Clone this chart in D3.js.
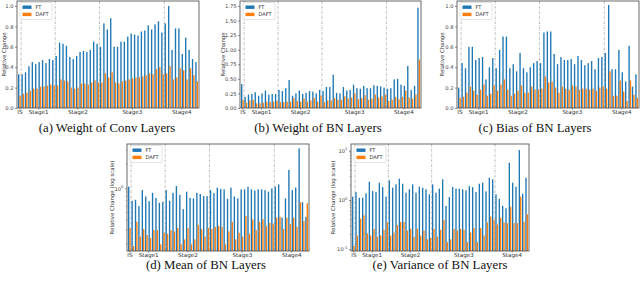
<!DOCTYPE html>
<html lang="en">
<head>
<meta charset="UTF-8">
<title>Relative change per layer: FT vs DAFT</title>
<script src="https://cdn.jsdelivr.net/npm/d3@7"></script>
<style>
    body { margin: 0; background: #fff; }
    svg text { font-family: "DejaVu Sans", sans-serif; }
    svg text.caption { font-family: "Liberation Serif", "Times New Roman", serif; }
</style>
</head>
<body>
<svg id="main" width="640" height="282"></svg>
<script>
// layers: IS (1), Stage1 (10), Stage2 (13), Stage3 (19), Stage4 (10)
let stageNames = ["IS", "Stage1", "Stage2", "Stage3", "Stage4"];
let stageSizes = [1, 10, 13, 19, 10];
let seriesNames = ["FT", "DAFT"];

// (a) weight of conv layers
let convFT = [0.33,
    0.33, 0.35, 0.41, 0.45, 0.43, 0.45, 0.47, 0.44, 0.48, 0.47,
    0.51, 0.64, 0.63, 0.61, 0.50, 0.48, 0.51, 0.55, 0.56, 0.55, 0.57, 0.65, 0.63,
    0.60, 0.83, 0.77, 0.88, 0.60, 0.60, 0.65, 0.65, 0.70, 0.73, 0.72, 0.71, 0.75, 0.76, 0.81, 0.77, 0.82, 0.85, 0.74,
    0.83, 1.00, 0.57, 0.78, 0.78, 0.53, 0.69, 0.57, 0.48, 0.45];
let convDAFT = [0.12,
    0.14, 0.15, 0.17, 0.19, 0.19, 0.21, 0.21, 0.22, 0.23, 0.22,
    0.22, 0.28, 0.27, 0.26, 0.20, 0.19, 0.20, 0.24, 0.24, 0.23, 0.25, 0.27, 0.25,
    0.25, 0.34, 0.30, 0.35, 0.25, 0.24, 0.26, 0.27, 0.28, 0.29, 0.30, 0.30, 0.31, 0.32, 0.34, 0.33, 0.38, 0.40, 0.33,
    0.34, 0.41, 0.28, 0.30, 0.39, 0.37, 0.28, 0.39, 0.32, 0.26];

// (b) weight of BN layers
let bnwFT = [0.41,
    0.19, 0.23, 0.24, 0.27, 0.21, 0.25, 0.30, 0.23, 0.24, 0.24,
    0.31, 0.29, 0.34, 0.48, 0.21, 0.25, 0.30, 0.24, 0.26, 0.29, 0.28, 0.25, 0.31,
    0.29, 0.36, 0.36, 0.57, 0.26, 0.25, 0.36, 0.30, 0.31, 0.40, 0.34, 0.33, 0.38, 0.34, 0.34, 0.39, 0.38, 0.37, 0.35,
    0.33, 0.34, 0.49, 0.50, 0.40, 0.38, 0.72, 0.31, 0.38, 1.72];
let bnwDAFT = [0.14,
    0.09, 0.13, 0.14, 0.08, 0.08, 0.09, 0.11, 0.10, 0.11, 0.12,
    0.10, 0.10, 0.11, 0.11, 0.17, 0.12, 0.11, 0.16, 0.11, 0.13, 0.17, 0.11, 0.21,
    0.10, 0.13, 0.13, 0.17, 0.14, 0.14, 0.20, 0.16, 0.18, 0.25, 0.15, 0.17, 0.22, 0.14, 0.16, 0.23, 0.18, 0.20, 0.23,
    0.12, 0.14, 0.19, 0.15, 0.19, 0.30, 0.18, 0.16, 0.23, 0.83];

// (c) bias of BN layers
let biasFT = [0.20,
    0.44, 0.39, 0.60, 0.60, 0.47, 0.49, 0.50, 0.28, 0.40, 0.49,
    0.39, 0.57, 0.70, 0.70, 0.39, 0.43, 0.36, 0.54, 0.39, 0.35, 0.40, 0.44, 0.46,
    0.44, 0.74, 0.75, 0.75, 0.53, 0.43, 0.50, 0.47, 0.47, 0.48, 0.43, 0.51, 0.47, 0.42, 0.44, 0.46, 0.38, 0.49, 0.50,
    0.54, 1.01, 0.38, 0.38, 0.57, 0.35, 0.26, 0.61, 0.21, 0.33];
let biasDAFT = [0.10,
    0.11, 0.15, 0.21, 0.17, 0.13, 0.18, 0.23, 0.12, 0.14, 0.22,
    0.17, 0.23, 0.28, 0.18, 0.12, 0.14, 0.17, 0.22, 0.15, 0.15, 0.21, 0.18, 0.18,
    0.19, 0.31, 0.25, 0.26, 0.20, 0.15, 0.21, 0.19, 0.18, 0.22, 0.21, 0.18, 0.19, 0.19, 0.18, 0.19, 0.17, 0.20, 0.21,
    0.19, 0.36, 0.12, 0.12, 0.27, 0.16, 0.07, 0.27, 0.13, 0.10];

// (d) mean of BN layers (log scale)
let meanFT = [1.05,
    0.70, 0.72, 0.60, 0.95, 0.79, 0.69, 0.88, 0.76, 0.66, 0.68,
    0.95, 0.70, 0.88, 1.07, 0.83, 0.55, 0.91, 0.76, 0.75, 0.88, 0.85, 0.80, 0.80,
    0.95, 0.87, 1.02, 0.98, 0.97, 0.74, 1.02, 0.79, 0.75, 0.97, 0.97, 1.05, 0.97, 0.94, 0.97, 0.97, 0.95, 0.91, 1.00,
    1.05, 1.12, 0.43, 0.75, 1.70, 0.95, 1.02, 3.16, 0.67, 0.44];
let meanDAFT = [0.32,
    0.19, 0.38, 0.25, 0.31, 0.26, 0.24, 0.30, 0.30, 0.20, 0.28,
    0.27, 0.30, 0.29, 0.32, 0.20, 0.23, 0.32, 0.20, 0.23, 0.35, 0.31, 0.25, 0.32,
    0.31, 0.33, 0.34, 0.33, 0.20, 0.29, 0.38, 0.23, 0.28, 0.25, 0.45, 0.27, 0.41, 0.30, 0.38, 0.41, 0.34, 0.37, 0.36,
    0.43, 0.44, 0.31, 0.43, 0.36, 0.43, 0.33, 0.67, 0.39, 0.65];

// (e) variance of BN layers (log scale)
let varFT = [1.17,
    1.45, 1.11, 1.11, 1.36, 2.35, 1.52, 1.45, 2.25, 1.83, 1.17,
    2.50, 1.78, 2.08, 2.70, 2.14, 1.41, 1.65, 2.08, 1.41, 1.86, 1.78, 1.65, 1.30,
    2.08, 1.41, 1.70, 2.63, 0.76, 1.15, 1.83, 1.70, 1.70, 1.65, 1.57, 1.92, 1.83, 1.45, 2.14, 2.25, 1.50, 2.83, 2.63,
    1.30, 1.06, 0.76, 0.68, 5.70, 2.25, 1.86, 10.3, 1.34, 2.83];
let varDAFT = [0.117,
    0.19, 0.42, 0.49, 0.21, 0.19, 0.26, 0.18, 0.19, 0.25, 0.35,
    0.19, 0.22, 0.31, 0.36, 0.36, 0.24, 0.26, 0.18, 0.26, 0.19, 0.24, 0.16, 0.17,
    0.26, 0.18, 0.25, 0.39, 0.14, 0.16, 0.26, 0.24, 0.26, 0.25, 0.14, 0.22, 0.27, 0.14, 0.27, 0.19, 0.35, 0.46, 0.40,
    0.32, 0.44, 0.35, 0.34, 0.73, 0.34, 0.34, 1.17, 0.36, 0.51];

let linTicks = [0, 0.2, 0.4, 0.6, 0.8, 1.0];
let bnwTicks = [0, 0.25, 0.5, 0.75, 1.0, 1.25, 1.5, 1.75];

let blue = "#1f77b4", orange = "#ff7f0e";
let svg = d3.select("svg#main");

// stage start index, centre, and separators between stages
let starts = [], s = 0;
stageSizes.forEach(function (n) { starts.push(s); s += n; });
let nLayers = s;
let centers = starts.map(function (st, k) { return st + (stageSizes[k] - 1) / 2; });
let seps = starts.slice(1).map(function (st) { return st - 0.5; });

function supText(sel, exp) {
    sel.text(null);
    sel.append("tspan").text("10");
    sel.append("tspan").attr("dy", -2.5).style("font-size", "3.8px").text(exp);
}

function drawPanel(p) {
    let g = svg.append("g");
    let x = d3.scaleLinear().domain([-0.7, nLayers - 0.3]).range([p.left, p.right]);
    let y = p.log ? d3.scaleLog().domain(p.ydom).range([p.bottom, p.top])
                  : d3.scaleLinear().domain(p.ydom).range([p.bottom, p.top]);
    let bw = x(0.4) - x(0);

    // separators
    g.selectAll("line.sep").data(seps).join("line")
        .attr("x1", function (d) { return x(d); }).attr("x2", function (d) { return x(d); })
        .attr("y1", p.top).attr("y2", p.bottom)
        .style("stroke", "#9a9a9a").style("stroke-width", 0.7)
        .style("stroke-dasharray", "2.2,1.2,0.6,1.2");

    g.selectAll("rect.ft").data(p.ft).join("rect")
        .attr("x", function (d, i) { return x(i - 0.4); })
        .attr("width", bw)
        .attr("y", function (d) { return y(d); })
        .attr("height", function (d) { return p.bottom - y(d); })
        .style("fill", blue);
    g.selectAll("rect.daft").data(p.daft).join("rect")
        .attr("x", function (d, i) { return x(i); })
        .attr("width", bw)
        .attr("y", function (d) { return y(d); })
        .attr("height", function (d) { return p.bottom - y(d); })
        .style("fill", orange);

    // frame
    g.append("rect").attr("x", p.left).attr("y", p.top)
        .attr("width", p.right - p.left).attr("height", p.bottom - p.top)
        .style("fill", "none").style("stroke", "#444").style("stroke-width", 0.8);

    // y axis
    let yAxis = d3.axisLeft(y).tickValues(p.ticks).tickSize(2).tickPadding(1.5);
    if (!p.log) yAxis.tickFormat(d3.format(p.fmt));
    let ya = g.append("g").attr("transform", "translate(" + p.left + ",0)").call(yAxis);
    ya.select(".domain").remove();
    ya.selectAll("line").style("stroke", "#444").style("stroke-width", 0.6);
    ya.selectAll("text").style("font-size", "5.2px").style("fill", "#444");
    if (p.log) {
        ya.selectAll("text").each(function (d) { supText(d3.select(this), String(Math.round(Math.log10(d)))); });
        // minor ticks
        let minor = [];
        [-2, -1, 0, 1].forEach(function (e) {
            for (let m = 2; m < 10; m++) {
                let v = m * Math.pow(10, e);
                if (v > p.ydom[0] && v < p.ydom[1]) minor.push(v);
            }
        });
        g.selectAll("line.minor").data(minor).join("line")
            .attr("x1", p.left - 1.2).attr("x2", p.left)
            .attr("y1", function (d) { return y(d); }).attr("y2", function (d) { return y(d); })
            .style("stroke", "#444").style("stroke-width", 0.5);
    }

    // x axis: stage labels
    let xa = g.append("g").attr("transform", "translate(0," + p.bottom + ")")
        .call(d3.axisBottom(x).tickValues(centers).tickSize(1.5).tickPadding(1)
            .tickFormat(function (d, i) { return stageNames[i]; }));
    xa.select(".domain").remove();
    xa.selectAll("line").style("stroke", "#444").style("stroke-width", 0.6);
    xa.selectAll("text").style("font-size", "5.6px").style("fill", "#333");

    // y label
    g.append("text")
        .attr("transform", "translate(" + p.ylabelX + "," + ((p.top + p.bottom) / 2) + ") rotate(-90)")
        .attr("text-anchor", "middle").attr("dy", "0.35em")
        .style("font-size", "5.4px").style("fill", "#333")
        .text(p.ylabel);

    // legend
    let lg = g.append("g").attr("transform", "translate(" + (p.left + 3) + "," + (p.top + 1.5) + ")");
    lg.append("rect").attr("width", 32).attr("height", 17).attr("rx", 1)
        .style("fill", "#fff").style("fill-opacity", 0.85).style("stroke", "#d0d0d0").style("stroke-width", 0.6);
    seriesNames.forEach(function (name, k) {
        lg.append("rect").attr("x", 2.5).attr("y", 3 + k * 7.2).attr("width", 9).attr("height", 3.4)
            .style("fill", k === 0 ? blue : orange);
        lg.append("text").attr("x", 15.5).attr("y", 4.7 + k * 7.2).attr("dy", "0.35em")
            .style("font-size", "5px").style("fill", "#333").text(name);
    });

    // caption
    svg.append("text").attr("class", "caption")
        .attr("x", p.capX).attr("y", p.capY).attr("text-anchor", "middle")
        .style("font-size", "12.8px").style("fill", "#111")
        .text(p.caption);
}

let panels = [
    {left: 17, right: 199, top: 1, bottom: 108, ft: convFT, daft: convDAFT, log: false, ydom: [0, 1.049],
     ticks: linTicks, fmt: ".1f", ylabel: "Relative Change", ylabelX: 4,
     caption: "(a) Weight of Conv Layers", capX: 107, capY: 132},
    {left: 240, right: 421, top: 1, bottom: 108, ft: bnwFT, daft: bnwDAFT, log: false, ydom: [0, 1.835],
     ticks: bnwTicks, fmt: ".2f", ylabel: "Relative Change", ylabelX: 223,
     caption: "(b) Weight of BN Layers", capX: 318, capY: 132},
    {left: 457, right: 639, top: 1, bottom: 108, ft: biasFT, daft: biasDAFT, log: false, ydom: [0, 1.049],
     ticks: linTicks, fmt: ".1f", ylabel: "Relative Change", ylabelX: 442,
     caption: "(c) Bias of BN Layers", capX: 535, capY: 132},
    {left: 127, right: 309, top: 144, bottom: 251, ft: meanFT, daft: meanDAFT, log: true, ydom: [0.165, 3.58],
     ticks: [1], ylabel: "Relative Change (log scale)", ylabelX: 112,
     caption: "(d) Mean of BN Layers", capX: 206, capY: 269},
    {left: 351, right: 529, top: 144, bottom: 251, ft: varFT, daft: varDAFT, log: true, ydom: [0.0924, 13.7],
     ticks: [0.1, 1, 10], ylabel: "Relative Change (log scale)", ylabelX: 333,
     caption: "(e) Variance of BN Layers", capX: 440, capY: 269}
];
panels.forEach(drawPanel);
</script>
</body>
</html>
